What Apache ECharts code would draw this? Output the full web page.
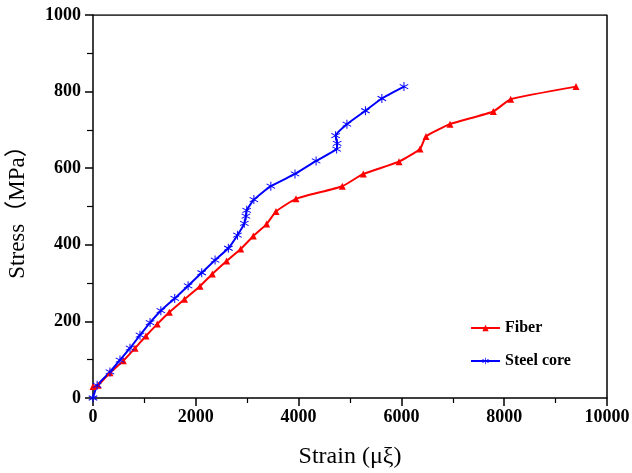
<!DOCTYPE html>
<html>
<head>
    <meta charset="UTF-8">
    <title>Stress-Strain</title>
    <script src="https://cdn.jsdelivr.net/npm/echarts@6/dist/echarts.min.js"></script>
    <style>
      html, body{ margin: 0; padding: 0; background: #fff; }
      #container{ width: 632px; height: 473px; }
    </style>
</head>
<body>
<div id="container"></div>
<script>
    // strain (με), stress (MPa)
    var fiberStrain = [0, 100, 330, 590, 817, 1030, 1250, 1485, 1780, 2082, 2321, 2600, 2873, 3119, 3378, 3560, 3949, 4850, 5259, 5953, 6362, 6479, 6946, 7788, 8126, 9397]
    var fiberStress = [30, 33, 66, 97, 130, 162, 193, 224, 258, 292, 324, 358, 389, 423, 454, 487, 520, 553, 585, 617, 650, 683, 715, 748, 780, 813]

    var steelStrain = [0, 80, 330, 525, 720, 914, 1110, 1320, 1590, 1850, 2115, 2375, 2633, 2810, 2944, 2975, 2990, 3130, 3460, 3930, 4340, 4740, 4750, 4720, 4940, 5300, 5620, 6050]
    var steelStress = [0, 33, 68, 99, 130, 164, 197, 228, 260, 293, 327, 360, 391, 425, 456, 475, 490, 518, 553, 585, 619, 650, 665, 685, 715, 750, 782, 813]

    var seriesNames = ['Fiber', 'Steel core']

    function pairs(xs, ys) {
        var out = []
        for (var i = 0; i < xs.length; i++) out.push([xs[i], ys[i]])
        return out
    }

    // asterisk marker
    var starPath = 'path://M-1 -10 L1 -10 L1 10 L-1 10 Z ' +
        'M-9.16 -4.13 L-8.16 -5.87 L9.16 4.13 L8.16 5.87 Z ' +
        'M8.16 -5.87 L9.16 -4.13 L-8.16 5.87 L-9.16 4.13 Z'

    var serif = '"Liberation Serif", "Noto Sans CJK SC", serif'

    var myChart = echarts.init(document.getElementById('container'))
    var option = {
        backgroundColor: '#FFFFFF',
        animation: false,
        grid: {left: 93, right: 25, top: 15, bottom: 75, outerBoundsMode: 'none', containLabel: false},
        legend: {
            orient: 'vertical',
            left: 470,
            top: 320,
            padding: 0,
            itemWidth: 29,
            itemHeight: 8,
            itemGap: 17,
            data: seriesNames,
            textStyle: {fontFamily: serif, fontWeight: 'bold', fontSize: 16, color: '#000'}
        },
        xAxis: {
            type: 'value',
            min: 0, max: 10000, interval: 2000,
            name: 'Strain (μξ)',
            nameLocation: 'middle',
            nameGap: 47,
            nameTextStyle: {fontFamily: serif, fontSize: 24, color: '#000'},
            axisLine: {onZero: false, lineStyle: {color: '#000', width: 1.5}},
            axisTick: {inside: false, length: 8, lineStyle: {color: '#000', width: 1.5}},
            minorTick: {show: true, splitNumber: 2, length: 5, lineStyle: {color: '#000', width: 1.2}},
            axisLabel: {fontFamily: serif, fontWeight: 'bold', fontSize: 18, color: '#000', margin: 10,
                formatter: function (v) { return String(v) }},
            splitLine: {show: false}
        },
        yAxis: {
            type: 'value',
            min: 0, max: 1000, interval: 200,
            name: 'Stress（MPa）',
            nameLocation: 'middle',
            nameGap: 64,
            nameTextStyle: {fontFamily: serif, fontSize: 23, color: '#000'},
            axisLine: {onZero: false, lineStyle: {color: '#000', width: 1.5}},
            axisTick: {inside: false, length: 8, lineStyle: {color: '#000', width: 1.5}},
            minorTick: {show: true, splitNumber: 2, length: 6, lineStyle: {color: '#000', width: 1.2}},
            axisLabel: {fontFamily: serif, fontWeight: 'bold', fontSize: 18, color: '#000', margin: 12,
                formatter: function (v) { return String(v) }},
            splitLine: {show: false}
        },
        series: [
            {
                name: seriesNames[0],
                type: 'line',
                data: pairs(fiberStrain, fiberStress),
                symbol: 'triangle',
                symbolSize: 7,
                smooth: 0.15,
                color: '#FF0000',
                lineStyle: {color: '#FF0000', width: 2},
                itemStyle: {color: '#FF0000'}
            },
            {
                name: seriesNames[1],
                type: 'line',
                data: pairs(steelStrain, steelStress),
                symbol: starPath,
                symbolSize: 9,
                smooth: 0.15,
                color: '#0000FF',
                lineStyle: {color: '#0000FF', width: 2},
                itemStyle: {color: '#0000FF'}
            },
            {
                // top/right frame
                type: 'line',
                data: [[0, 1000], [10000, 1000], [10000, 0]],
                symbol: 'none',
                silent: true,
                lineStyle: {color: '#000', width: 1.5},
                z: 1
            }
        ]
    }
    myChart.setOption(option, true)
</script>
</body>
</html>
